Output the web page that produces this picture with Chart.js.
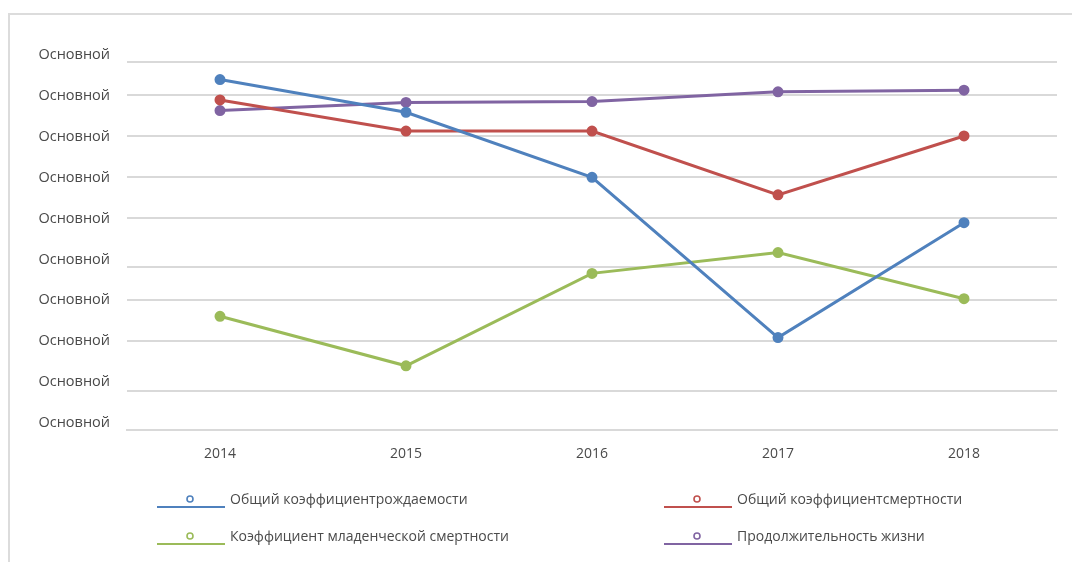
<!DOCTYPE html>
<html lang="ru">
<head>
    <meta charset="UTF-8">
    <title>Демографические показатели 2014–2018</title>
    <script src="https://cdn.jsdelivr.net/npm/chart.js"></script>
    <style>
        html, body { margin: 0; padding: 0; background: #fff; }
        .page { position: relative; width: 1072px; height: 562px; overflow: hidden; }
        .frame {
            position: absolute; left: 8px; top: 13px; right: -10px; bottom: -10px;
            border-left: 2px solid #dcdcdc; border-top: 2px solid #dcdcdc;
        }
        canvas { position: absolute; left: 0; top: 0; }
    </style>
</head>
<body>
<div class="page">
    <div class="frame"></div>
    <canvas id="chart" width="1072" height="562"></canvas>
</div>
<script>
    // categories
    const years = ['2014', '2015', '2016', '2017', '2018'];

    // series (in units of the y label steps)
    const birthRate = [8.40, 7.60, 6.01, 2.09, 4.90];
    const deathRate = [7.90, 7.14, 7.14, 5.58, 7.02];
    const infantMortality = [2.61, 1.40, 3.66, 4.17, 3.04];
    const lifeExpectancy = [7.64, 7.84, 7.86, 8.10, 8.14];

    const seriesNames = [
        'Общий коэффициентрождаемости',
        'Общий коэффициентсмертности',
        'Коэффициент младенческой смертности',
        'Продолжительность жизни'
    ];
    const seriesColors = ['#4f81bd', '#c0504d', '#9bbb59', '#8064a2'];

    // y axis: label ticks (all labelled "Основной") and separate gridline ticks
    const yLabelTicks = [0, 1, 2, 3, 4, 5, 6, 7, 8, 9];
    const yLabelText = 'Основной';
    const yGridTicks = [0.78, 2.0, 3.01, 3.81, 5.01, 6.01, 7.02, 8.02, 8.83];
    const yMin = -0.17, yMax = 9;

    const textColor = '#4a4a4a';
    const gridColor = '#d9d9d9';

    function makeDataset(i, values) {
        return {
            label: seriesNames[i],
            data: values,
            borderColor: seriesColors[i],
            backgroundColor: seriesColors[i],
            borderWidth: 3,
            pointRadius: 4,
            pointHoverRadius: 4,
            tension: 0,
            yAxisID: 'y'
        };
    }

    // legend drawn as 2x2 grid under the plot
    const gridLegend = {
        id: 'gridLegend',
        afterDraw(chart) {
            const ctx = chart.ctx;
            const cols = [157, 664];
            const rows = [500, 537];
            ctx.save();
            ctx.font = '14px "Open Sans"';
            ctx.textBaseline = 'middle';
            ctx.textAlign = 'left';
            chart.data.datasets.forEach((ds, i) => {
                const x = cols[i % 2];
                const y = rows[Math.floor(i / 2)];
                ctx.strokeStyle = ds.borderColor;
                ctx.lineWidth = 2;
                ctx.beginPath();
                ctx.moveTo(x, y + 7);
                ctx.lineTo(x + 68, y + 7);
                ctx.stroke();
                ctx.lineWidth = 1.6;
                ctx.beginPath();
                ctx.arc(x + 33, y - 1, 3, 0, Math.PI * 2);
                ctx.fillStyle = '#fff';
                ctx.fill();
                ctx.stroke();
                ctx.fillStyle = textColor;
                ctx.fillText(ds.label, x + 73, y);
            });
            ctx.restore();
        }
    };

    new Chart(document.getElementById('chart'), {
        type: 'line',
        data: {
            labels: years,
            datasets: [
                makeDataset(0, birthRate),
                makeDataset(1, deathRate),
                makeDataset(2, infantMortality),
                makeDataset(3, lifeExpectancy)
            ]
        },
        options: {
            responsive: false,
            animation: false,
            layout: { padding: { top: 55, right: 15, bottom: 102, left: 0 } },
            plugins: {
                legend: { display: false },
                tooltip: { enabled: false }
            },
            scales: {
                x: {
                    offset: true,
                    grid: { display: false },
                    border: { display: true, color: gridColor, width: 2 },
                    ticks: { color: textColor, font: { family: 'Open Sans', size: 14 }, padding: 8 },
                    afterFit(scale) { scale.height = 30; }
                },
                y: {
                    position: 'left',
                    min: yMin,
                    max: yMax,
                    grid: { display: false, drawTicks: false },
                    border: { display: false },
                    afterBuildTicks(scale) { scale.ticks = yLabelTicks.map(v => ({ value: v })); },
                    afterFit(scale) { scale.width = 127; },
                    ticks: {
                        color: textColor,
                        font: { family: 'Open Sans', size: 14.5 },
                        padding: 17,
                        callback: () => yLabelText
                    }
                },
                yGrid: {
                    position: 'left',
                    min: yMin,
                    max: yMax,
                    grid: { color: gridColor, lineWidth: 2, drawTicks: false },
                    border: { display: false },
                    afterBuildTicks(scale) { scale.ticks = yGridTicks.map(v => ({ value: v })); },
                    afterFit(scale) { scale.width = 0; },
                    ticks: { display: false }
                }
            }
        },
        plugins: [gridLegend]
    });
</script>
</body>
</html>
